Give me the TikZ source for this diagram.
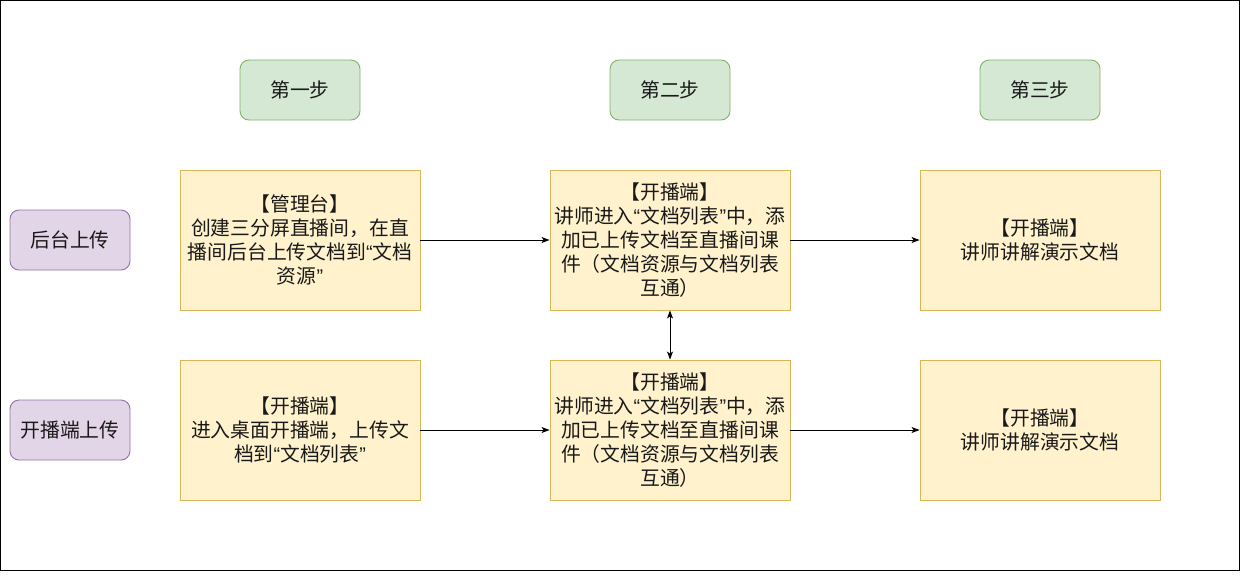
\documentclass[tikz,border=0pt]{standalone}
\usepackage{fontspec}
\setmainfont{Noto Sans CJK SC}
\newfontfamily\latinq{Liberation Sans}
\newcommand{\oq}{{\latinq “}}
\newcommand{\cq}{{\latinq ”}}
\usetikzlibrary{arrows.meta}
\definecolor{gfill}{HTML}{D5E8D4}
\definecolor{gline}{HTML}{82B366}
\definecolor{yfill}{HTML}{FFF2CC}
\definecolor{yline}{HTML}{D6B656}
\definecolor{pfill}{HTML}{E1D5E7}
\definecolor{pline}{HTML}{9673A6}
\tikzset{
  x=1pt, y=-1pt,
  every node/.style={font=\fontsize{19.8}{24}\selectfont, text=black!90, align=center, inner sep=0pt},
  stephead/.style={draw=gline, fill=gfill, line width=0.9pt, rounded corners=9pt, minimum width=120pt, minimum height=60pt},
  procbox/.style={draw=yline, fill=yfill, line width=0.9pt, minimum width=240pt, minimum height=140pt},
  sidebox/.style={draw=pline, fill=pfill, line width=0.9pt, rounded corners=9pt, minimum width=120pt, minimum height=60pt},
  conn/.style={line width=0.9pt, -{Stealth[length=8pt,width=6pt,inset=2pt]}},
  dconn/.style={line width=0.9pt, {Stealth[length=8pt,width=6pt,inset=2pt]}-{Stealth[length=8pt,width=6pt,inset=2pt]}}
}
\begin{document}
\begin{tikzpicture}
\useasboundingbox (0,0) rectangle (1241,579);
\draw[line width=1.2pt] (0.6,0.6) rectangle (1239.4,570.4);

\node[stephead] (s1) at (300,90) {第一步};
\node[stephead] (s2) at (670,90) {第二步};
\node[stephead] (s3) at (1040,90) {第三步};

\node[sidebox] (u1) at (70,240) {后台上传};
\node[sidebox] (u2) at (70,430) {开播端上传};

\node[procbox] (a1) at (300,240) {【管理台】\\创建三分屏直播间，在直\\播间后台上传文档到\oq 文档\\资源\cq};
\node[procbox] (a2) at (670,240) {【开播端】\\讲师进入\oq 文档列表\cq 中，添\\加已上传文档至直播间课\\件（文档资源与文档列表\\互通）};
\node[procbox] (a3) at (1040,240) {【开播端】\\讲师讲解演示文档};

\node[procbox] (b1) at (300,430) {【开播端】\\进入桌面开播端，上传文\\档到\oq 文档列表\cq};
\node[procbox] (b2) at (670,430) {【开播端】\\讲师进入\oq 文档列表\cq 中，添\\加已上传文档至直播间课\\件（文档资源与文档列表\\互通）};
\node[procbox] (b3) at (1040,430) {【开播端】\\讲师讲解演示文档};

\draw[conn] (a1) -- (a2);
\draw[conn] (a2) -- (a3);
\draw[conn] (b1) -- (b2);
\draw[conn] (b2) -- (b3);
\draw[dconn] (a2) -- (b2);
\end{tikzpicture}
\end{document}
